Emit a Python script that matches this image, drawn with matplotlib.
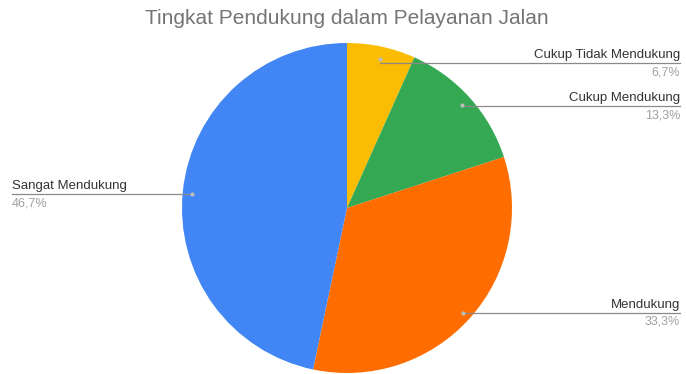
import matplotlib
matplotlib.use("Agg")
import matplotlib.pyplot as plt

categories = ["Cukup Tidak Mendukung", "Cukup Mendukung", "Mendukung", "Sangat Mendukung"]
values = [6.7, 13.3, 33.3, 46.7]
pct_labels = ["6,7%", "13,3%", "33,3%", "46,7%"]
colors = ["#FBBC04", "#34A853", "#FF6D01", "#4285F4"]

W, H = 686, 374
fig = plt.figure(figsize=(W / 100, H / 100), dpi=100)
ax = fig.add_axes([0, 0, 1, 1])

cx, cy, r = 347, H - 208, 165
ax.pie(values, colors=colors, startangle=90, counterclock=False,
       center=(cx, cy), radius=r, wedgeprops=dict(linewidth=0))
ax.set_xlim(0, W)
ax.set_ylim(0, H)
ax.set_aspect("equal")
ax.axis("off")

font = "Liberation Sans"
# (anchor dot x, y, label line y, text side)
callouts = [
    (380, 59, 63, "right"),
    (462, 105, 106, "right"),
    (463, 313, 313, "right"),
    (192, 194, 194, "left"),
]
for (dx, dy, ly, side), name, pct in zip(callouts, categories, pct_labels):
    if side == "right":
        x_end, ha = 680, "right"
    else:
        x_end, ha = 12, "left"
    ax.plot([dx, x_end], [H - ly, H - ly], color="#8a8a8a", lw=0.9)
    ax.plot([dx], [H - dy], "o", ms=2, color="#bdbdbd")
    ax.text(x_end, H - ly + 2, name, ha=ha, va="bottom", fontsize=9.5,
            color="#333333", family=font)
    ax.text(x_end, H - ly - 3, pct, ha=ha, va="top", fontsize=9,
            color="#a0a0a0", family=font)

fig.text(347 / W, 1 - 18 / H, "Tingkat Pendukung dalam Pelayanan Jalan",
         ha="center", va="center", fontsize=15, color="#757575", family=font)

fig.savefig("out.png", dpi=100, facecolor="white")
